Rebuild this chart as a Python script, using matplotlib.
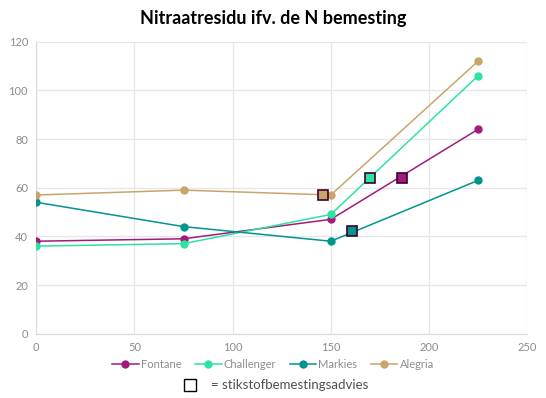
import matplotlib.pyplot as plt
from matplotlib.lines import Line2D

plt.rcParams['font.family'] = ['Lato', 'DejaVu Sans']

# N bemesting (x) en nitraatresidu (y) per ras
dose = [0, 75, 150, 225]
fontane = [38, 39, 47, 84]
challenger = [36, 37, 49, 106]
markies = [54, 44, 38, 63]
alegria = [57, 59, 57, 112]

series_names = ['Fontane', 'Challenger', 'Markies', 'Alegria']
series_values = [fontane, challenger, markies, alegria]
colors = ['#a31a7e', '#2de3a0', '#00958f', '#c8a66a']

# stikstofbemestingsadvies per ras (x, y)
advies_x = [186, 170, 161, 146]
advies_y = [64, 64, 42, 57]

fig = plt.figure(figsize=(5.46, 3.98), dpi=100)
ax = fig.add_axes([0.0665, 0.1616, 0.899, 0.7336])

for name, vals, c in zip(series_names, series_values, colors):
    ax.plot(dose, vals, color=c, lw=1.1, marker='o', ms=5, mec=c, mfc=c,
            label=name, zorder=3)
for xa, ya, c in zip(advies_x, advies_y, colors):
    ax.plot(xa, ya, marker='s', ms=7, mfc=c, mec='#3a0030', mew=1.2,
            ls='none', zorder=4)

ax.set_xlim(0, 250)
ax.set_ylim(0, 120)
ax.set_xticks(range(0, 251, 50))
ax.set_yticks(range(0, 121, 20))
ax.grid(color='#e6e6e6', lw=0.9)
ax.set_axisbelow(True)
for s in ['top', 'right']:
    ax.spines[s].set_visible(False)
for s in ['left', 'bottom']:
    ax.spines[s].set_color('#d9d9d9')
ax.tick_params(length=0, labelsize=8, labelcolor='#8c8c8c', pad=6)

fig.suptitle('Nitraatresidu ifv. de N bemesting', y=0.975, fontsize=13,
             fontweight='bold', color='black')

fig.legend(loc='center', bbox_to_anchor=(0.5, 0.085), ncol=4, frameon=False,
           fontsize=8, labelcolor='#8c8c8c', handlelength=2.4,
           handletextpad=0.2, columnspacing=1.2)

sq = Line2D([], [], marker='s', ms=8, mfc='white', mec='black', mew=1, ls='none')
fig.legend([sq], ['= stikstofbemestingsadvies'], loc='center',
           bbox_to_anchor=(0.5, 0.032), frameon=False, fontsize=9.5,
           labelcolor='#505050', handletextpad=0.6)

fig.savefig('out.png', dpi=100)
